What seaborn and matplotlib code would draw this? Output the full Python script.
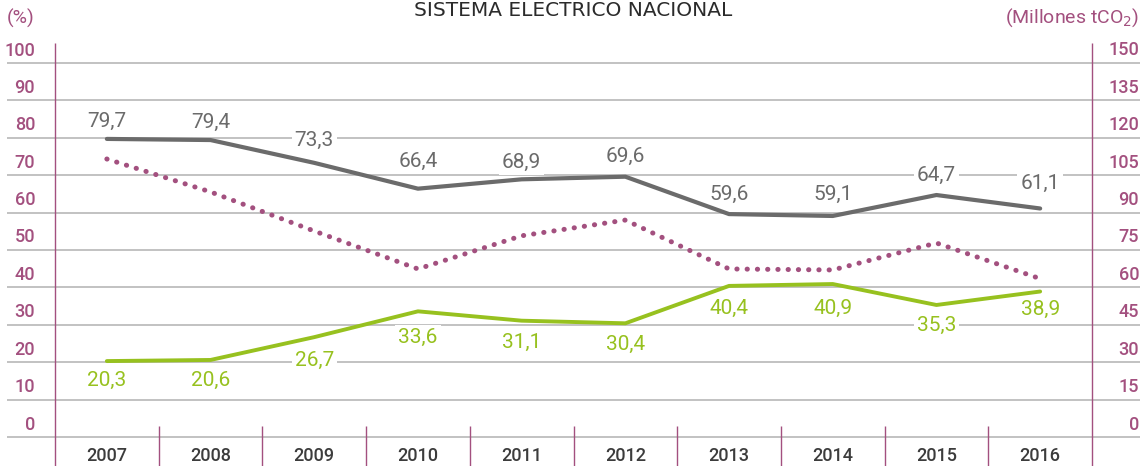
import matplotlib
matplotlib.use("Agg")
import matplotlib.pyplot as plt
import seaborn as sns
import pandas as pd

# data
years = ["2007", "2008", "2009", "2010", "2011", "2012", "2013", "2014", "2015", "2016"]
fossil_share = [79.7, 79.4, 73.3, 66.4, 68.9, 69.6, 59.6, 59.1, 64.7, 61.1]
renewable_share = [20.3, 20.6, 26.7, 33.6, 31.1, 30.4, 40.4, 40.9, 35.3, 38.9]
emissions = [111.5, 98.3, 82.6, 67.4, 80.7, 87.0, 67.4, 67.0, 77.8, 63.5]
left_ticks = list(range(0, 101, 10))
right_ticks = list(range(0, 151, 15))

# label offsets in pixels (layout only)
fossil_label_dy = [18, 18, 22, 27, 17, 20, 20, 22, 20, 25]
renew_label_dy = [19, 20, 23, 26, 22, 21, 22, 24, 20, 18]

GRAY = "#6b6b6b"
GREEN = "#97c11f"
MAROON = "#a3507f"
GRID = "#bdbdbd"

sns.set_style("white")
plt.rcParams["font.family"] = ["Roboto", "DejaVu Sans"]

df = pd.DataFrame({"year": years, "fossil": fossil_share,
                   "renew": renewable_share, "co2": emissions})

W, H = 1146, 466
fig = plt.figure(figsize=(W / 100, H / 100), dpi=100)
x0, x1, y0, y1 = 55, 1092, 437, 63  # axes box in pixels
ax = fig.add_axes([x0 / W, (H - y0) / H, (x1 - x0) / W, (y0 - y1) / H])
ax.set_facecolor("none")

sns.lineplot(data=df, x="year", y="fossil", ax=ax, color=GRAY, linewidth=3.0,
             sort=False, zorder=5)
sns.lineplot(data=df, x="year", y="renew", ax=ax, color=GREEN, linewidth=2.8,
             sort=False, zorder=5)
ax.set_xlim(-0.5, len(years) - 0.5)
ax.set_ylim(0, 100)

ax2 = ax.twinx()
sns.lineplot(data=df, x="year", y="co2", ax=ax2, color=MAROON, linewidth=3.6,
             linestyle=(0, (0.05, 2.0)), dash_capstyle="round", sort=False, zorder=5)
ax2.set_ylim(0, 150)
ax2.set_xlim(-0.5, len(years) - 0.5)

for a in (ax, ax2):
    for s in a.spines.values():
        s.set_visible(False)
    a.set_xlabel("")
    a.set_ylabel("")
    a.set_yticks([])

# horizontal grid lines extending beyond the axes
px = 1.0 / (x1 - x0)
gl_left, gl_right = (7 - x0) * px, (1140 - x0) * px
ax.hlines(left_ticks, gl_left, gl_right, transform=ax.get_yaxis_transform(),
          color=GRID, linewidth=1.3, clip_on=False, zorder=0)

# y tick labels (sit just above their gridline)
tick_kw = dict(textcoords="offset points", ha="right", va="center", fontsize=13,
               fontweight="medium", color=MAROON, annotation_clip=False)
for v in left_ticks:
    ax.annotate(str(v), xy=((35 - x0) * px, v), xycoords=ax.get_yaxis_transform(),
                xytext=(0, 9), **tick_kw)
for v in right_ticks:
    ax2.annotate(str(v), xy=((1139 - x0) * px, v), xycoords=ax2.get_yaxis_transform(),
                 xytext=(0, 9), **tick_kw)

# axis lines (vertical) and category separators
py = 1.0 / (y0 - y1)
ax.vlines([-0.5, len(years) - 0.5], (y0 - 466) * py, (y0 - 43) * py,
          transform=ax.get_xaxis_transform(), color=MAROON, linewidth=1.0,
          clip_on=False, zorder=1)
ax.vlines([i + 0.5 for i in range(len(years) - 1)], (y0 - 466) * py, (y0 - 426) * py,
          transform=ax.get_xaxis_transform(), color=MAROON, linewidth=1.0,
          clip_on=False, zorder=1)

# x tick labels
ax.set_xticks(range(len(years)))
ax.set_xticklabels(years, fontsize=13, color="#3c3c3c", fontweight="medium")
ax.tick_params(axis="x", length=0, pad=7)

# value labels
to_pt = 72 / 100
lbl_kw = dict(textcoords="offset points", ha="center", va="center", fontsize=15,
              fontstretch="condensed", zorder=4,
              bbox=dict(boxstyle="square,pad=0.15", fc="white", ec="none"))
for i, (v, dy) in enumerate(zip(fossil_share, fossil_label_dy)):
    ax.annotate(f"{v:.1f}".replace(".", ","), xy=(i, v), xytext=(0, dy * to_pt),
                color=GRAY, **lbl_kw)
for i, (v, dy) in enumerate(zip(renewable_share, renew_label_dy)):
    ax.annotate(f"{v:.1f}".replace(".", ","), xy=(i, v), xytext=(0, -dy * to_pt),
                color=GREEN, **lbl_kw)

# titles
fig.text(573 / W, 1 - 10 / H, "SISTEMA ELECTRICO NACIONAL", ha="center", va="center",
         fontsize=14.5, color="#2b2b2b", family=["DejaVu Sans"])
fig.text(7 / W, 1 - 18 / H, "(%)", ha="left", va="center", fontsize=14,
         color=MAROON)
fig.text(1139 / W, 1 - 18 / H, "(Millones tCO$_2$)", ha="right", va="center",
         fontsize=14, color=MAROON)

fig.savefig("out.png", dpi=100, facecolor="white")
